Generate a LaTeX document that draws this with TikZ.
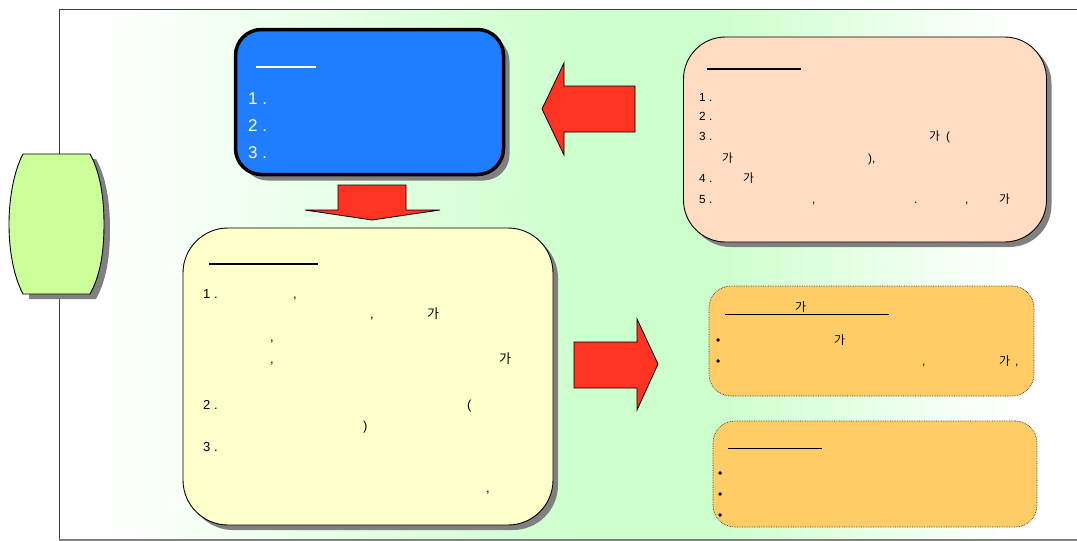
\documentclass[tikz,border=0pt]{standalone}
\usepackage{fontspec}
\setmainfont{Liberation Sans}
\newfontfamily\cjk{Noto Sans CJK KR}
\usetikzlibrary{shadows}
\definecolor{bggreen}{HTML}{CCFFCC}
\definecolor{bluefill}{HTML}{1F7DFF}
\definecolor{bluetxt}{HTML}{FFFFCC}
\definecolor{yelfill}{HTML}{FFFFCC}
\definecolor{peachfill}{HTML}{FFDCC2}
\definecolor{orfill}{HTML}{FFCC66}
\definecolor{cylfill}{HTML}{CCFF99}
\definecolor{arrred}{HTML}{FF3322}
\definecolor{shadowgray}{HTML}{808080}
\pgfdeclarehorizontalshading{bgshade}{100bp}{color(0bp)=(white); color(27bp)=(white); color(51bp)=(bggreen); color(57bp)=(bggreen); color(72bp)=(white); color(100bp)=(white)}
\newcommand\kga{{\cjk 가}}
\begin{document}
\begin{tikzpicture}[x=1pt,y=-1pt,
  shad/.style={drop shadow={shadow xshift=5pt,shadow yshift=-5pt,fill=shadowgray,opacity=1}},
  panel/.style={draw=black,line width=0.9pt,inner sep=0,shad},
  redarrow/.style={fill=arrred,draw=black,line width=0.8pt,line join=miter},
  hdr/.style={line width=1.3pt},
  btxt/.style={anchor=base west,inner sep=0,font=\fontsize{17}{20}\selectfont,text=bluetxt},
  ytxt/.style={anchor=base west,inner sep=0,font=\fontsize{13}{15}\selectfont},
  ptxt/.style={anchor=base west,inner sep=0,font=\fontsize{11.8}{13}\selectfont},
  otxt/.style={anchor=base west,inner sep=0,font=\fontsize{12}{14}\selectfont}]
\useasboundingbox (0,0) rectangle (1077,541);
% background frame
\shade[shading=bgshade] (59,9) rectangle (1077,540);
\draw[line width=1pt,black!75] (1077,9) -- (59,9) -- (59,540);
\draw[line width=1.5pt,black!50] (59,540) -- (1077,540);
% cylinder
\fill[shadowgray] (29,159) -- (96,159) .. controls (108,180) and (110,210) .. (110,229) .. controls (110,250) and (108,278) .. (96,299) -- (29,299) -- cycle;
\draw[fill=cylfill,line width=0.9pt] (23,154) -- (90,154) .. controls (102,175) and (104,205) .. (104,224) .. controls (104,245) and (102,273) .. (90,294) -- (23,294) .. controls (12,273) and (9,245) .. (9,224) .. controls (9,205) and (12,175) .. (23,154) -- cycle;
\coordinate (cyl) at (56,224);
% blue box
\node[panel,line width=3.5pt,fill=bluefill,rounded corners=26pt,minimum width=268pt,minimum height=145pt,drop shadow={shadow xshift=6pt,shadow yshift=-6pt,fill=shadowgray,opacity=1}] (blue) at (369.5,102) {};
\draw[hdr,draw=bluetxt] (256,67) -- (316,67);
\node[btxt] (b1) at (248,104) {1 .};
\node[btxt] (b2) at (248,131) {2 .};
\node[btxt] (b3) at (248,158) {3 .};
% down arrow
\draw[redarrow] (338,185) -- (406,185) -- (406,210) -- (440,210) -- (372,220) -- (305,210) -- (338,210) -- cycle;
% yellow box
\node[panel,fill=yelfill,rounded corners=45pt,minimum width=370pt,minimum height=297pt] (yel) at (368,376.5) {};
\draw[hdr] (209,264) -- (318,264);
\node[ytxt] (y1) at (203,298) {1 .};
\node[ytxt] (y1a) at (293,298) {,};
\node[ytxt] (y2a) at (370,318) {,};
\node[ytxt] (y2b) at (427,318) {\kga};
\node[ytxt] (y3a) at (270,341) {,};
\node[ytxt] (y4a) at (270,363) {,};
\node[ytxt] (y4b) at (499,363) {\kga};
\node[ytxt] (y5) at (203,409) {2 .};
\node[ytxt] (y5a) at (467,409) {(};
\node[ytxt] (y6a) at (363,430) {)};
\node[ytxt] (y7) at (203,451) {3 .};
\node[ytxt] (y8a) at (486,492) {,};
% left arrow
\draw[redarrow] (635,86) -- (564,86) -- (564,63) -- (542,109) -- (564,155) -- (564,132) -- (635,132) -- cycle;
% peach box
\node[panel,fill=peachfill,rounded corners=42pt,minimum width=363pt,minimum height=205pt] (peach) at (865,139.5) {};
\draw[hdr] (707,69) -- (801,69);
\node[ptxt] (p1) at (699,101) {1 .};
\node[ptxt] (p2) at (699,120) {2 .};
\node[ptxt] (p3) at (699,140) {3 .};
\node[ptxt] (p3a) at (929,140) {\kga\hspace{6pt}(};
\node[ptxt] (p4a) at (722,162) {\kga};
\node[ptxt] (p4b) at (868,162) {),};
\node[ptxt] (p5) at (699,182) {4 .};
\node[ptxt] (p5a) at (743,182) {\kga};
\node[ptxt] (p6) at (699,203) {5 .};
\node[ptxt] (p6a) at (812,203) {,};
\node[ptxt] (p6b) at (914,203) {.};
\node[ptxt] (p6c) at (965,203) {,};
\node[ptxt] (p6d) at (999,203) {\kga};
% right arrow
\draw[redarrow] (574,342) -- (637,342) -- (637,319) -- (658,364) -- (637,410) -- (637,388) -- (574,388) -- cycle;
% orange box 1
\node[draw=black!80,densely dotted,line width=0.7pt,fill=orfill,rounded corners=22pt,minimum width=325pt,minimum height=110pt,inner sep=0] (or1) at (871.5,341) {};
\draw[line width=1pt] (725,314) -- (889,314);
\node[otxt] (o1h) at (795,311) {\kga};
\node[otxt] (o1b1) at (716,344) {•};
\node[otxt] (o1b1a) at (834,344) {\kga};
\node[otxt] (o1b2) at (716,365) {•};
\node[otxt] (o1b2a) at (922,365) {,};
\node[otxt] (o1b2b) at (999,365) {\kga\hspace{5pt},};
% orange box 2
\node[draw=black!80,densely dotted,line width=0.7pt,fill=orfill,rounded corners=22pt,minimum width=324pt,minimum height=106pt,inner sep=0] (or2) at (875,474) {};
\draw[line width=1pt] (728,448) -- (822,448);
\node[otxt] (o2b1) at (718,477) {•};
\node[otxt] (o2b2) at (718,498) {•};
\node[otxt] (o2b3) at (718,519) {•};
\end{tikzpicture}
\end{document}
